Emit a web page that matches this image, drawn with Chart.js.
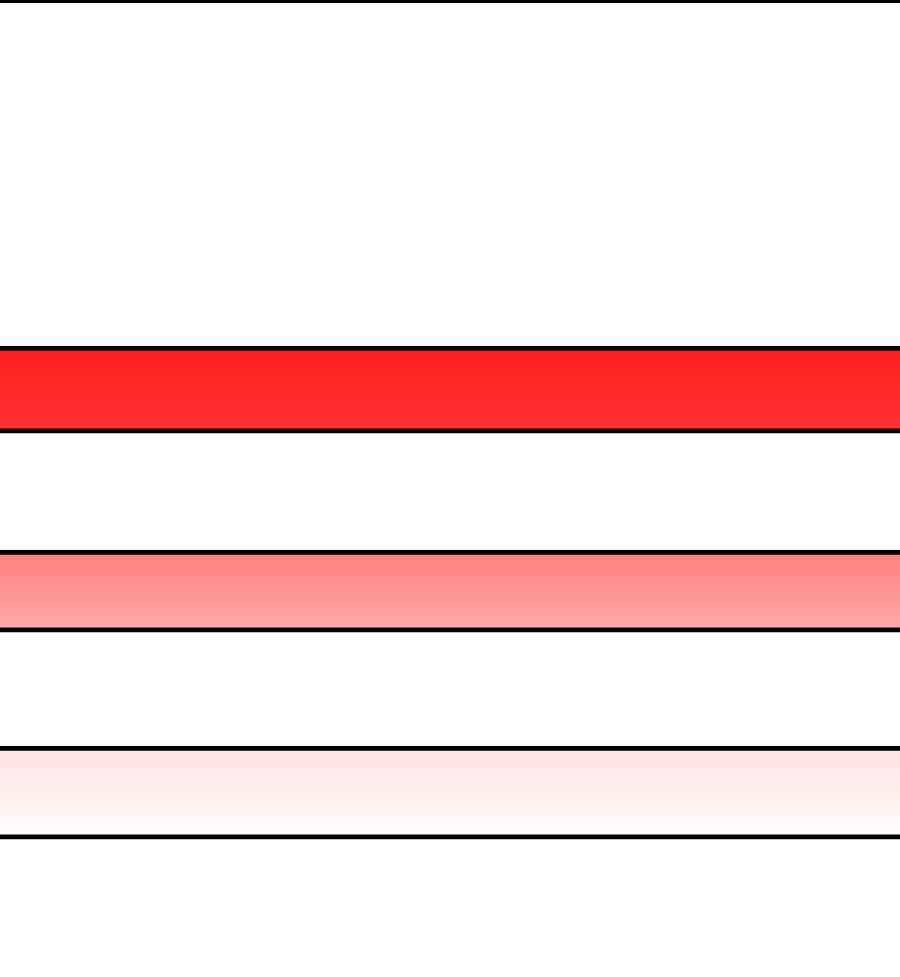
<!DOCTYPE html>
<html>
<head>
<meta charset="utf-8">
<script src="https://cdn.jsdelivr.net/npm/chart.js@4/dist/chart.umd.min.js"></script>
<style>
  html, body { margin: 0; padding: 0; background: #fff; }
  #wrap { width: 900px; height: 977px; }
</style>
</head>
<body>
<div id="wrap"><canvas id="chart" width="900" height="977"></canvas></div>
<script>
// data
const categories = ['A', 'B', 'C'];
const rowPositions = [1, 2, 3];
const barStarts = [-10, -10, -10];
const barEnds = [110, 110, 110];

// styles
const topColors = ['#ff1d1d', '#ff7e7e', '#ffe3e3'];
const bottomColors = ['#ff3434', '#ffa9a9', '#fffcfc'];
const thickness = [87, 82, 93];

// vertical gradient for each bar, built once the scale exists
function gradientFor(i) {
    return function (ctx) {
        const chart = ctx.chart;
        const y = chart.scales.y;
        if (!chart.chartArea || !y) return topColors[i];
        const c = y.getPixelForValue(rowPositions[i]);
        const g = chart.ctx.createLinearGradient(0, c - thickness[i] / 2, 0, c + thickness[i] / 2);
        g.addColorStop(0, topColors[i]);
        g.addColorStop(1, bottomColors[i]);
        return g;
    };
}

const datasets = categories.map((name, i) => ({
    label: name,
    data: [{ x: [barStarts[i], barEnds[i]], y: rowPositions[i] }],
    backgroundColor: gradientFor(i),
    borderColor: '#000',
    borderWidth: 5,
    borderSkipped: false,
    barThickness: thickness[i],
    grouped: false
}));

new Chart(document.getElementById('chart'), {
    type: 'bar',
    data: { datasets: datasets },
    options: {
        indexAxis: 'y',
        responsive: false,
        animation: false,
        layout: { padding: 0 },
        plugins: { legend: { display: false }, tooltip: { enabled: false } },
        scales: {
            x: {
                type: 'linear',
                position: 'top',
                min: 0,
                max: 100,
                ticks: { display: false },
                grid: { display: false, drawTicks: false },
                border: { display: true, color: '#000', width: 6 }
            },
            y: {
                type: 'linear',
                reverse: true,
                offset: false,
                min: -0.933,
                max: 3.915,
                display: false
            }
        }
    }
});
</script>
</body>
</html>
